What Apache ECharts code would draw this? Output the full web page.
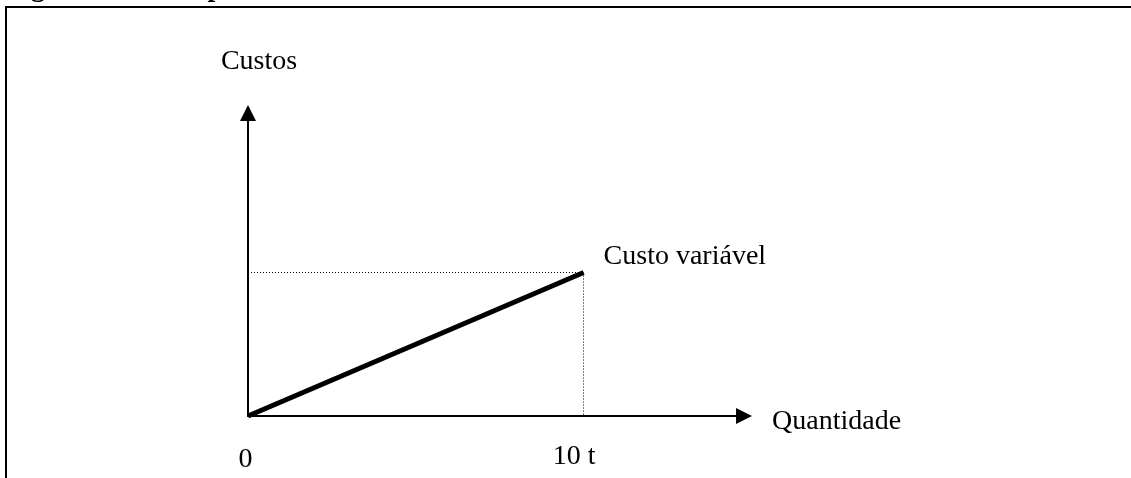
<!DOCTYPE html>
<html>
<head>
<meta charset="utf-8">
<script src="https://cdn.jsdelivr.net/npm/echarts@6/dist/echarts.min.js"></script>
<style>
  html, body { margin: 0; padding: 0; background: #fff; }
  #chart { width: 1131px; height: 478px; }
</style>
</head>
<body>
<div id="chart"></div>
<script>
// dados
const quantidade = [0, 10]          // t
const custoVariavel = [0, 5]        // escala arbitrária (eixo sem valores)
const xTicks = [0, 10]
const xTickLabels = { 0: '0', 10: '10 t' }
const xMax = 14.78
const yMax = 10.56

const FONT = 'Liberation Serif'

const chart = echarts.init(document.getElementById('chart'))

const option = {
  animation: false,
  backgroundColor: '#fff',
  grid: { left: 248, right: 387, top: 113, bottom: 62 },
  graphic: [
    // moldura (esquerda e topo)
    { type: 'line', shape: { x1: 6, y1: 7, x2: 1131, y2: 7 }, style: { stroke: '#000', lineWidth: 2 } },
    { type: 'line', shape: { x1: 6, y1: 6, x2: 6, y2: 478 }, style: { stroke: '#000', lineWidth: 2 } },
    // título cortado no topo
    {
      type: 'text', x: 6, y: -11,
      style: {
        text: 'Figura 10 – Comportamento do custo variável',
        font: 'bold 28px "' + FONT + '"',
        fill: '#000',
        verticalAlign: 'middle'
      }
    }
  ],
  xAxis: {
    type: 'value',
    min: 0,
    max: xMax,
    splitLine: { show: false },
    axisTick: { show: false },
    axisLine: {
      lineStyle: { color: '#000', width: 2 },
      symbol: ['none', 'triangle'],
      symbolSize: [16, 16]
    },
    axisLabel: {
      customValues: xTicks,
      margin: 27,
      color: '#000',
      fontFamily: FONT,
      fontSize: 28,
      formatter: v => (v === 0 ? '{z|' : '{d|') + xTickLabels[v] + '}',
      rich: {
        z: { fontFamily: FONT, fontSize: 28, color: '#000', padding: [3, 5, 0, 0] },
        d: { fontFamily: FONT, fontSize: 28, color: '#000', padding: [0, 19, 0, 0] }
      }
    },
    name: 'Quantidade',
    nameLocation: 'end',
    nameGap: 28,
    nameTextStyle: { color: '#000', fontFamily: FONT, fontSize: 28, verticalAlign: 'top', lineHeight: 12 }
  },
  yAxis: {
    type: 'value',
    min: 0,
    max: yMax,
    splitLine: { show: false },
    axisTick: { show: false },
    axisLabel: { show: false },
    axisLine: {
      show: true,
      lineStyle: { color: '#000', width: 2 },
      symbol: ['none', 'triangle'],
      symbolSize: [16, 16]
    },
    name: 'Custos',
    nameLocation: 'end',
    nameGap: 37,
    nameTextStyle: { color: '#000', fontFamily: FONT, fontSize: 28, padding: [0, 0, 0, 22] }
  },
  series: [
    {
      name: 'Custo variável',
      type: 'line',
      data: quantidade.map((q, i) => [q, custoVariavel[i]]),
      symbol: 'none',
      lineStyle: { color: '#000', width: 5 },
      endLabel: {
        show: true,
        formatter: 'Custo variável',
        color: '#000',
        fontFamily: FONT,
        fontSize: 28,
        distance: 20,
        offset: [0, -16]
      },
      markLine: {
        silent: true,
        symbol: 'none',
        label: { show: false },
        lineStyle: { color: '#000', width: 1, type: [1, 2] },
        data: [
          [{ coord: [quantidade[0], custoVariavel[1]] }, { coord: [quantidade[1], custoVariavel[1]] }],
          [{ coord: [quantidade[1], custoVariavel[1]] }, { coord: [quantidade[1], custoVariavel[0]] }]
        ]
      }
    }
  ]
}

chart.setOption(option)
window.addEventListener('resize', () => chart.resize())
</script>
</body>
</html>
